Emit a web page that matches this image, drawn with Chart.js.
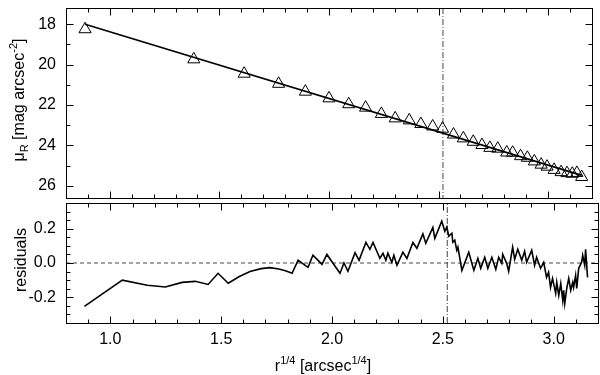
<!DOCTYPE html>
<html lang="en">
<head>
<meta charset="UTF-8" />
<title>Surface brightness profile and residuals</title>
<script src="https://cdn.jsdelivr.net/npm/chart.js"></script>
<style>
  body { margin: 0; background: #fff; font-family: "Liberation Sans", Arial, sans-serif; color: #000; }
  #wrap { position: relative; width: 600px; height: 375px; overflow: hidden; }
  canvas { position: absolute; left: 0; }
  #top { top: 0; }
  #bottom { top: 200px; }
  .lbl { position: absolute; white-space: nowrap; font-size: 16px; line-height: 1; }
  .rot { transform: translate(-50%, -50%) rotate(-90deg); }
  .lbl sub, .lbl sup { font-size: 11px; }
  .lbl sub { vertical-align: -4px; }
  .lbl sup { vertical-align: 7px; }
</style>
</head>
<body>
<div id="wrap">
  <canvas id="top" width="600" height="206"></canvas>
  <canvas id="bottom" width="600" height="175"></canvas>
  <div class="lbl rot" style="left:19px; top:100px;">&mu;<sub>R</sub> [mag arcsec<sup>-2</sup>]</div>
  <div class="lbl rot" style="left:21px; top:260px;">residuals</div>
  <div class="lbl" style="left:323px; top:364px; transform: translate(-50%, -50%);">r<sup>1/4</sup> [arcsec<sup>1/4</sup>]</div>
</div>

<script>
  // profile points (triangles)
  const profX = [0.887, 1.383, 1.613, 1.770, 1.892, 2.000, 2.090, 2.167, 2.239, 2.302, 2.366, 2.419, 2.473,
    2.518, 2.568, 2.613, 2.658, 2.698, 2.734, 2.770, 2.811, 2.838, 2.874, 2.905, 2.937, 2.968, 2.995,
    3.027, 3.059, 3.086, 3.110, 3.131, 3.153];
  const profMu = [18.25, 19.74, 20.45, 20.95, 21.34, 21.67, 21.96, 22.13, 22.44, 22.66, 22.76, 22.94, 23.06,
    23.17, 23.46, 23.65, 23.82, 23.98, 24.12, 24.16, 24.35, 24.36, 24.53, 24.61, 24.79, 24.95, 25.05,
    25.21, 25.32, 25.37, 25.40, 25.36, 25.56];

  // r^1/4 law fit
  const fitX = [0.887, 3.153];
  const fitMu = [18.0, 25.48];

  // residuals
  const resX = [0.883, 1.054, 1.167, 1.248, 1.324, 1.383, 1.441, 1.486, 1.532, 1.58, 1.63, 1.68, 1.72, 1.76,
    1.79, 1.82, 1.847, 1.892, 1.914, 1.955, 1.977, 2.036, 2.054, 2.072, 2.104, 2.122, 2.153, 2.171, 2.185,
    2.216, 2.23, 2.243, 2.252, 2.27, 2.279, 2.293, 2.32, 2.338, 2.365, 2.383, 2.41, 2.423, 2.455, 2.464,
    2.495, 2.509, 2.518, 2.527, 2.541, 2.545, 2.554, 2.563, 2.568, 2.586, 2.617, 2.640, 2.658, 2.671,
    2.689, 2.703, 2.721, 2.739, 2.752, 2.766, 2.770, 2.788, 2.797, 2.815, 2.824, 2.838, 2.856, 2.869,
    2.878, 2.901, 2.914, 2.923, 2.941, 2.955, 2.968, 2.977, 2.986, 2.995, 3.009, 3.014, 3.023, 3.032,
    3.041, 3.045, 3.050, 3.059, 3.068, 3.077, 3.086, 3.090, 3.099, 3.104, 3.113, 3.126, 3.131, 3.140,
    3.144, 3.153];
  const resY = [-0.253, -0.10, -0.13, -0.14, -0.113, -0.107, -0.125, -0.06, -0.118, -0.08, -0.05, -0.033,
    -0.027, -0.035, -0.045, -0.06, 0.016, -0.025, 0.045, -0.008, 0.05, -0.06, 0.0, -0.048, 0.06, 0.016,
    0.12, 0.08, 0.12, 0.027, 0.057, 0.016, 0.057, 0.004, 0.045, -0.013, 0.063, 0.027, 0.12, 0.086, 0.17,
    0.115, 0.207, 0.144, 0.244, 0.185, 0.21, 0.156, 0.174, 0.121, 0.133, 0.074, 0.092, -0.043, 0.063,
    -0.043, 0.027, -0.031, 0.033, -0.031, 0.033, -0.037, 0.033, -0.002, 0.051, -0.002, -0.048, 0.092,
    0.022, 0.08, 0.016, 0.068, 0.004, 0.074, -0.013, 0.033, -0.031, 0.004, -0.084, -0.054, -0.142, -0.09,
    -0.177, -0.113, -0.189, -0.119, -0.218, -0.159, -0.236, -0.148, -0.09, -0.159, -0.113, -0.142, -0.072,
    -0.148, -0.031, 0.004, 0.045, -0.013, 0.08, -0.084];

  const markerX = 2.52;

  // axes
  const xRange = [0.8, 3.2];
  const xTicks = [1.0, 1.5, 2.0, 2.5, 3.0];
  const muRange = [17.2, 26.6];
  const muTicks = [18, 20, 22, 24, 26];
  const resRange = [-0.35, 0.35];
  const resTicks = [-0.2, 0.0, 0.2];

  const FONT = { family: "'Liberation Sans', Arial, sans-serif", size: 16 };

  function steps(a, b, s) {
    const out = [];
    for (let v = Math.ceil(a / s - 1e-6); v * s <= b + 1e-9; v++) out.push(+(v * s).toFixed(4));
    return out;
  }

  // frame plus inward ticks on all four sides
  function framePlugin(xMinor, yMajor, yMinor) {
    return {
      id: 'frame',
      afterDatasetsDraw(chart) {
        const { ctx, chartArea: a, scales } = chart;
        const L = Math.round(a.left) + 0.5, R = Math.round(a.right) + 0.5;
        const T = Math.round(a.top) + 0.5, B = Math.round(a.bottom) + 0.5;
        ctx.save();
        ctx.strokeStyle = '#000';
        ctx.lineWidth = 1;
        ctx.strokeRect(L, T, R - L, B - T);
        ctx.beginPath();
        const xs = (v, len) => {
          const p = Math.round(scales.x.getPixelForValue(v)) + 0.5;
          ctx.moveTo(p, T); ctx.lineTo(p, T + len);
          ctx.moveTo(p, B); ctx.lineTo(p, B - len);
        };
        const ys = (v, len) => {
          const p = Math.round(scales.y.getPixelForValue(v)) + 0.5;
          ctx.moveTo(L, p); ctx.lineTo(L + len, p);
          ctx.moveTo(R, p); ctx.lineTo(R - len, p);
        };
        xTicks.forEach(v => xs(v, 7));
        xMinor.forEach(v => xs(v, 4));
        yMajor.forEach(v => ys(v, 7));
        yMinor.forEach(v => ys(v, 4));
        ctx.stroke();
        ctx.restore();
      }
    };
  }

  const xMinor = steps(xRange[0], xRange[1], 0.1).filter(v => !xTicks.some(t => Math.abs(t - v) < 1e-6));
  const muMinor = steps(muRange[0], muRange[1], 1).filter(v => !muTicks.includes(v));
  const resMinor = steps(resRange[0], resRange[1], 0.05).filter(v => !resTicks.some(t => Math.abs(t - v) < 1e-6));

  const pts = (xs, ys) => xs.map((x, i) => ({ x: x, y: ys[i] }));

  const yAxisCommon = {
    border: { display: false },
    grid: { display: false, drawTicks: false },
    afterFit: s => { s.width = 66; s.paddingTop = 0; s.paddingBottom = 0; }
  };

  new Chart(document.getElementById('top'), {
    type: 'line',
    data: {
      datasets: [
        { data: pts(fitX, fitMu), borderColor: '#000', borderWidth: 1.6, pointRadius: 0 },
        { data: pts(profX, profMu), showLine: false, pointStyle: 'triangle', pointRadius: 7,
          borderColor: '#000', borderWidth: 1, backgroundColor: 'rgba(0,0,0,0)' },
        { data: pts([markerX, markerX], muRange), borderColor: '#444', borderWidth: 1,
          borderDash: [6, 2, 1, 2], pointRadius: 0 }
      ]
    },
    options: {
      responsive: false, animation: false, devicePixelRatio: 1,
      layout: { padding: { top: 3, bottom: 3, right: 2, left: 0 } },
      plugins: { legend: { display: false }, tooltip: { enabled: false } },
      scales: {
        x: {
          type: 'linear', min: xRange[0], max: xRange[1],
          border: { display: false },
          grid: { display: false, drawTicks: false },
          ticks: { display: false },
          afterFit: s => { s.height = 0; s.paddingLeft = 0; s.paddingRight = 0; }
        },
        y: Object.assign({}, yAxisCommon, {
          type: 'linear', reverse: true, min: muRange[0], max: muRange[1],
          afterBuildTicks: s => { s.ticks = muTicks.map(v => ({ value: v })); },
          ticks: { color: '#000', font: FONT, padding: 10, callback: v => String(v) }
        })
      }
    },
    plugins: [framePlugin(xMinor, muTicks, muMinor)]
  });

  new Chart(document.getElementById('bottom'), {
    type: 'line',
    data: {
      datasets: [
        { data: pts(resX, resY), borderColor: '#000', borderWidth: 1.6, pointRadius: 0 },
        { data: pts(xRange, [0, 0]), borderColor: '#444', borderWidth: 1, borderDash: [4, 3], pointRadius: 0 },
        { data: pts([markerX, markerX], resRange), borderColor: '#444', borderWidth: 1,
          borderDash: [6, 2, 1, 2], pointRadius: 0 }
      ]
    },
    options: {
      responsive: false, animation: false, devicePixelRatio: 1,
      layout: { padding: { top: 3, bottom: 0, right: 2, left: 0 } },
      plugins: { legend: { display: false }, tooltip: { enabled: false } },
      scales: {
        x: {
          type: 'linear', min: xRange[0], max: xRange[1],
          border: { display: false },
          grid: { display: false, drawTicks: false },
          afterBuildTicks: s => { s.ticks = xTicks.map(v => ({ value: v })); },
          afterFit: s => { s.height = 52; s.paddingLeft = 0; s.paddingRight = 0; },
          ticks: { color: '#000', font: FONT, padding: 7, maxRotation: 0, callback: v => v.toFixed(1) }
        },
        y: Object.assign({}, yAxisCommon, {
          type: 'linear', min: resRange[0], max: resRange[1],
          afterBuildTicks: s => { s.ticks = resTicks.map(v => ({ value: v })); },
          ticks: { color: '#000', font: FONT, padding: 10, callback: v => v.toFixed(1) }
        })
      }
    },
    plugins: [framePlugin(xMinor, resTicks, resMinor)]
  });
</script>
</body>
</html>
